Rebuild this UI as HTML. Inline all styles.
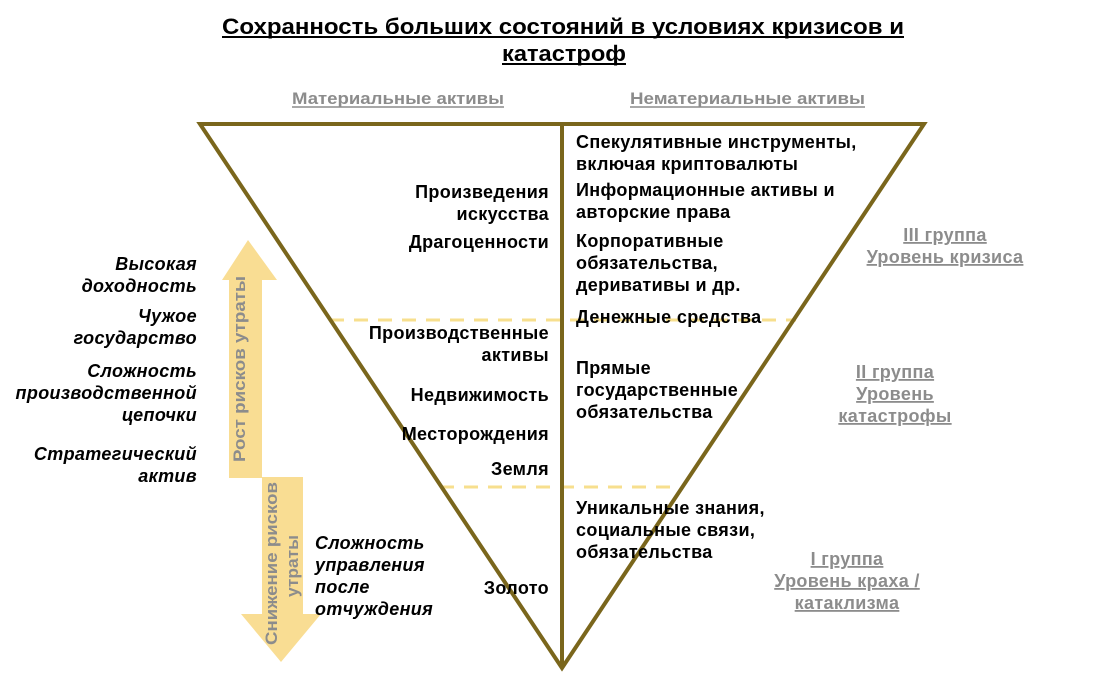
<!DOCTYPE html>
<html><head><meta charset="utf-8"><style>
html,body{margin:0;padding:0;background:#fff;width:1098px;height:681px;overflow:hidden}
svg{display:block}
text{font-family:"Liberation Sans","DejaVu Sans",sans-serif;font-weight:bold}
.b{font-size:18px;letter-spacing:0.35px}
</style></head><body>
<svg width="1098" height="681" viewBox="0 0 1098 681" xmlns="http://www.w3.org/2000/svg">
<g font-size="22" fill="#000">
<text x="222" y="34" textLength="682" lengthAdjust="spacingAndGlyphs">Сохранность больших состояний в условиях кризисов и</text>
<text x="502" y="61" textLength="124" lengthAdjust="spacingAndGlyphs">катастроф</text>
</g>
<line x1="222" y1="37" x2="904" y2="37" stroke="#000" stroke-width="2"/>
<line x1="502" y1="64" x2="626" y2="64" stroke="#000" stroke-width="2"/>
<g font-size="17" fill="#8c8c8c">
<text x="292" y="104" textLength="212" lengthAdjust="spacingAndGlyphs">Материальные активы</text>
<text x="630" y="104" textLength="235" lengthAdjust="spacingAndGlyphs">Нематериальные активы</text>
</g>
<line x1="292" y1="107" x2="504" y2="107" stroke="#8c8c8c" stroke-width="1.5"/>
<line x1="630" y1="107" x2="865" y2="107" stroke="#8c8c8c" stroke-width="1.5"/>

<polygon points="248,240 277,280 262,280 262,478 229,478 229,280 222,280" fill="#f9dd93"/>
<polygon points="262,477 303,477 303,614 321,614 281,662 241,614 262,614" fill="#f9dd93"/>
<text transform="translate(245,462) rotate(-90)" font-size="17" fill="#8c8c8c" font-weight="normal" textLength="186" lengthAdjust="spacingAndGlyphs">Рост рисков утраты</text>
<text transform="translate(277,645) rotate(-90)" font-size="17" fill="#8c8c8c" font-weight="normal" textLength="163" lengthAdjust="spacingAndGlyphs">Снижение рисков</text>
<text transform="translate(298,597) rotate(-90)" font-size="17" fill="#8c8c8c" font-weight="normal" textLength="62" lengthAdjust="spacingAndGlyphs">утраты</text>

<line x1="330" y1="320" x2="796" y2="320" stroke="#f7df8e" stroke-width="3" stroke-dasharray="14,10"/>
<line x1="440" y1="487" x2="680" y2="487" stroke="#f7df8e" stroke-width="3" stroke-dasharray="14,10"/>

<polygon points="200,124 924,124 562,668" fill="none" stroke="#7a661c" stroke-width="4"/>
<line x1="562" y1="124" x2="562" y2="668" stroke="#7a661c" stroke-width="4"/>

<g class="b" fill="#000" text-anchor="end">
<text x="549" y="198">Произведения</text>
<text x="549" y="220">искусства</text>
<text x="549" y="248">Драгоценности</text>
<text x="549" y="339">Производственные</text>
<text x="549" y="361">активы</text>
<text x="549" y="401">Недвижимость</text>
<text x="549" y="440">Месторождения</text>
<text x="549" y="475">Земля</text>
<text x="549" y="594">Золото</text>
</g>
<g class="b" fill="#000">
<text x="576" y="148">Спекулятивные инструменты,</text>
<text x="576" y="170">включая криптовалюты</text>
<text x="576" y="196">Информационные активы и</text>
<text x="576" y="218">авторские права</text>
<text x="576" y="247">Корпоративные</text>
<text x="576" y="269">обязательства,</text>
<text x="576" y="291">деривативы и др.</text>
<text x="576" y="323">Денежные средства</text>
<text x="576" y="374">Прямые</text>
<text x="576" y="396">государственные</text>
<text x="576" y="418">обязательства</text>
<text x="576" y="514">Уникальные знания,</text>
<text x="576" y="536">социальные связи,</text>
<text x="576" y="558">обязательства</text>
</g>

<g class="b" fill="#000" font-style="italic" text-anchor="end">
<text x="197" y="270">Высокая</text>
<text x="197" y="292">доходность</text>
<text x="197" y="322">Чужое</text>
<text x="197" y="344">государство</text>
<text x="197" y="377">Сложность</text>
<text x="197" y="399">производственной</text>
<text x="197" y="421">цепочки</text>
<text x="197" y="460">Стратегический</text>
<text x="197" y="482">актив</text>
</g>
<g class="b" fill="#000" font-style="italic">
<text x="315" y="549">Сложность</text>
<text x="315" y="571">управления</text>
<text x="315" y="593">после</text>
<text x="315" y="615">отчуждения</text>
</g>

<g class="b" fill="#8c8c8c" text-anchor="middle" text-decoration="underline">
<text x="945" y="241">III группа</text>
<text x="945" y="263">Уровень кризиса</text>
<text x="895" y="378">II группа</text>
<text x="895" y="400">Уровень</text>
<text x="895" y="422">катастрофы</text>
<text x="847" y="565">I группа</text>
<text x="847" y="587">Уровень краха /</text>
<text x="847" y="609">катаклизма</text>
</g>
</svg>
</body></html>
